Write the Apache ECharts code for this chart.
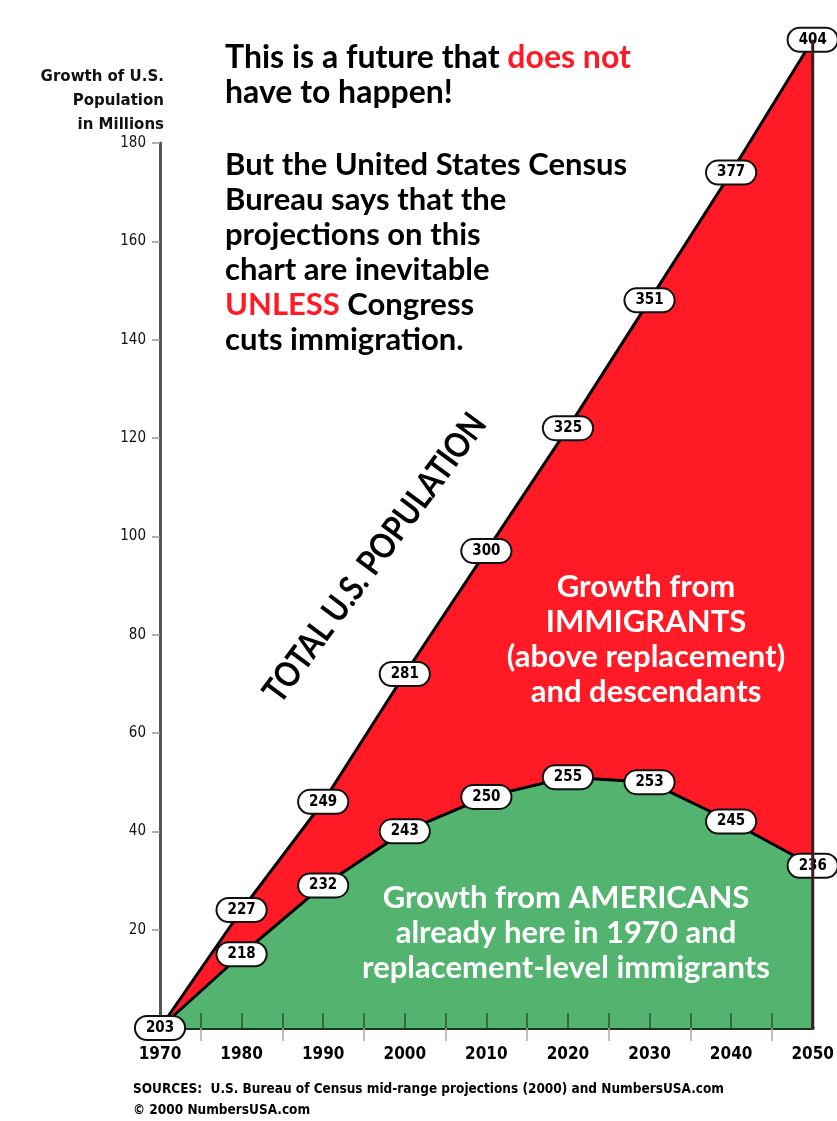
<!DOCTYPE html>
<html>
<head>
<meta charset="utf-8">
<script src="https://cdn.jsdelivr.net/npm/echarts@6/dist/echarts.min.js"></script>
<style>
  html, body { margin: 0; padding: 0; background: #fff; }
  #chart { width: 837px; height: 1121px; }
</style>
</head>
<body>
<div id="chart"></div>
<script>
// ---- data ----
const years = [1970, 1980, 1990, 2000, 2010, 2020, 2030, 2040, 2050];
// growth (millions above 1970) as drawn in the picture
const totalGrowth = [0, 24, 46, 72, 97, 122, 148, 174, 201];
const totalLabels = ['203', '227', '249', '281', '300', '325', '351', '377', '404'];
const americanGrowth = [0, 15, 29, 40, 47, 51, 50, 42, 33];
const americanLabels = ['203', '218', '232', '243', '250', '255', '253', '245', '236'];
const yTicks = [20, 40, 60, 80, 100, 120, 140, 160, 180];
const xMinorTicks = [1975, 1980, 1985, 1990, 1995, 2000, 2005, 2010, 2015, 2020, 2025, 2030, 2035, 2040, 2045];
const xOuterTicks = [1975, 1985, 1995, 2005, 2015, 2025, 2035, 2045];

const SANS = "'DejaVu Sans', sans-serif";
const COND = "'DejaVu Sans Condensed', 'DejaVu Sans', sans-serif";
const DISPLAY = "Lato, 'Noto Sans', sans-serif";
const RED = '#ff1a25';
const GREEN = '#52b46e';

const ovalLabel = {
  show: true,
  position: 'inside',
  backgroundColor: '#fff',
  borderColor: '#111',
  borderWidth: 2,
  borderRadius: 14,
  padding: [4, 10, 3, 10],
  fontSize: 15,
  fontWeight: 'bold',
  fontFamily: COND,
  color: '#000'
};

const chart = echarts.init(document.getElementById('chart'), null, { renderer: 'canvas' });

const totalData = years.map((y, i) => ({
  value: [y, totalGrowth[i]],
  label: Object.assign({}, ovalLabel, { show: i !== 0, formatter: totalLabels[i] })
}));
const americanData = years.map((y, i) => ({
  value: [y, americanGrowth[i]],
  label: Object.assign({}, ovalLabel, { formatter: americanLabels[i] })
}));

const option = {
  animation: false,
  backgroundColor: '#fff',
  grid: { left: 160, right: 22, top: 143, bottom: 93, containLabel: false },
  xAxis: [
    {
      type: 'value', min: 1970, max: 2050, interval: 10,
      axisLine: { show: true, lineStyle: { color: '#1d3624', width: 4 } },
      axisTick: { show: true, customValues: xOuterTicks, length: 13, lineStyle: { color: '#aaa', width: 1.5 } },
      axisLabel: { margin: 18, fontSize: 17, fontWeight: 'bold', fontFamily: COND, color: '#000', formatter: v => String(v) },
      splitLine: { show: false }
    },
    {
      type: 'value', min: 1970, max: 2050, position: 'bottom', z: 6,
      axisLine: { show: false },
      axisTick: { show: true, inside: true, customValues: xMinorTicks, length: 15, lineStyle: { color: '#2c5234', width: 1.5 } },
      axisLabel: { show: false },
      splitLine: { show: false }
    }
  ],
  yAxis: {
    type: 'value', min: 0, max: 180, interval: 20,
    axisLine: { show: true, lineStyle: { color: '#555', width: 3 } },
    axisTick: { show: true, length: 8, lineStyle: { color: '#999', width: 1.5 } },
    axisLabel: {
      margin: 14, fontSize: 15, fontFamily: COND, color: '#111',
      formatter: v => (yTicks.indexOf(v) >= 0 ? String(v) : '')
    },
    splitLine: { show: false }
  },
  series: [
    {
      name: 'Total', type: 'line', data: totalData, clip: false, z: 2,
      symbol: 'circle', symbolSize: 1, showSymbol: true, itemStyle: { color: 'rgba(0,0,0,0)' },
      lineStyle: { color: '#000', width: 3 },
      areaStyle: { color: RED, opacity: 1 }
    },
    {
      name: 'Americans', type: 'line', data: americanData, clip: false, z: 3,
      symbol: 'circle', symbolSize: 1, showSymbol: true, itemStyle: { color: 'rgba(0,0,0,0)' },
      lineStyle: { color: '#000', width: 3 },
      areaStyle: { color: GREEN, opacity: 1 }
    },
    {
      name: 'edge', type: 'line', clip: false, z: 4, symbol: 'none', silent: true,
      data: [[years[years.length - 1], 0], [years[years.length - 1], totalGrowth[totalGrowth.length - 1]]],
      lineStyle: { color: '#3a1e1e', width: 3 }
    }
  ],
  graphic: [
    {
      type: 'text', x: 164, y: 101,
      style: {
        text: 'Growth of U.S.\nPopulation\nin Millions',
        font: "bold 15px " + SANS,
        fill: '#111', textAlign: 'right', textVerticalAlign: 'middle', lineHeight: 24
      }
    },
    {
      type: 'text', x: 225, y: 40,
      style: {
        text: '{k|This is a future that }{r|does not}\n{k|have to happen!}',
        rich: {
          k: { fill: '#000', font: "bold 32px " + DISPLAY, lineHeight: 35 },
          r: { fill: RED, font: "bold 32px " + DISPLAY, lineHeight: 35 }
        }
      }
    },
    {
      type: 'text', x: 225, y: 147,
      style: {
        text: '{k|But the United States Census}\n{k|Bureau says that the}\n{k|projections on this}\n{k|chart are inevitable}\n{r|UNLESS}{k| Congress}\n{k|cuts immigration.}',
        rich: {
          k: { fill: '#000', font: "bold 31px " + DISPLAY, lineHeight: 35 },
          r: { fill: RED, font: "bold 31px " + DISPLAY, lineHeight: 35 }
        }
      }
    },
    {
      type: 'text', x: 375, y: 558, rotation: 53.5 * Math.PI / 180, scaleX: 0.85,
      style: {
        text: 'TOTAL U.S. POPULATION',
        font: "bold 35px " + DISPLAY, fill: '#000',
        textAlign: 'center', textVerticalAlign: 'middle'
      }
    },
    {
      type: 'text', x: 646, y: 639, z: 10,
      style: {
        text: 'Growth from\nIMMIGRANTS\n(above replacement)\nand descendants',
        font: "bold 31px " + DISPLAY, fill: '#fff', lineHeight: 35,
        textAlign: 'center', textVerticalAlign: 'middle'
      }
    },
    {
      type: 'text', x: 566, y: 933, z: 10,
      style: {
        text: 'Growth from AMERICANS\nalready here in 1970 and\nreplacement-level immigrants',
        font: "bold 31px " + DISPLAY, fill: '#fff', lineHeight: 35,
        textAlign: 'center', textVerticalAlign: 'middle'
      }
    },
    {
      type: 'text', x: 133, y: 1089,
      style: {
        text: 'SOURCES:  U.S. Bureau of Census mid-range projections (2000) and NumbersUSA.com',
        font: "bold 13.5px " + COND, fill: '#000', textVerticalAlign: 'middle'
      }
    },
    {
      type: 'text', x: 133, y: 1110,
      style: {
        text: '© 2000 NumbersUSA.com',
        font: "bold 13.5px " + COND, fill: '#000', textVerticalAlign: 'middle'
      }
    }
  ]
};

chart.setOption(option);
</script>
</body>
</html>
